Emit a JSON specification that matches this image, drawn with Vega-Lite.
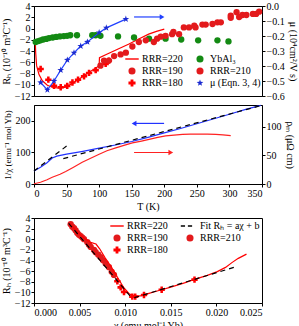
{
 "$schema": "https://vega.github.io/schema/vega-lite/v6.json",
 "padding": 0,
 "spacing": 0,
 "config": {
  "font": "Liberation Serif",
  "view": {"stroke": "#000000"},
  "axis": {"labelFont": "Liberation Serif", "labelFontSize": 10, "titleFont": "Liberation Serif", "titleFontSize": 10, "titleFontWeight": "normal", "labelColor": "#000000", "titleColor": "#000000", "domainColor": "#000000", "tickColor": "#000000", "tickSize": 3, "labelPadding": 1, "titlePadding": 3, "grid": false},
  "legend": {"labelFont": "Liberation Serif", "labelFontSize": 10, "labelColor": "#000000"}
 },
 "datasets": {
  "top_line": [
   {"T": 2, "R": -2.4}, {"T": 2.6, "R": -4.3}, {"T": 4, "R": -6.6}, {"T": 7.7, "R": -8.2}, {"T": 12.8, "R": -9.3}, {"T": 20.5, "R": -10.1}, {"T": 28, "R": -10.45}, {"T": 38, "R": -10.6}, {"T": 48.7, "R": -10.45}, {"T": 60, "R": -9.7}, {"T": 70, "R": -8.95}, {"T": 80, "R": -8.15}, {"T": 90, "R": -7.4}, {"T": 100, "R": -6.6}, {"T": 100.5, "R": -5.2}, {"T": 115, "R": -4.4}, {"T": 130, "R": -3.6}, {"T": 145, "R": -2.8}, {"T": 160, "R": -1.9}, {"T": 176, "R": -1.0}, {"T": 188, "R": -0.5}, {"T": 200, "R": -0.1}
  ],
  "top_pts": [
   {"s": "RRR=180", "T": 10.2, "R": -7.2}, {"s": "RRR=180", "T": 22, "R": -9.1}, {"s": "RRR=180", "T": 30.7, "R": -10.2}, {"s": "RRR=180", "T": 41, "R": -10.45}, {"s": "RRR=180", "T": 51, "R": -10.2}, {"s": "RRR=180", "T": 59, "R": -9.6}, {"s": "RRR=180", "T": 67.6, "R": -9.1}, {"s": "RRR=180", "T": 76.8, "R": -8.5}, {"s": "RRR=180", "T": 84.5, "R": -7.9}, {"s": "RRR=180", "T": 94.7, "R": -7.4}, {"s": "RRR=180", "T": 110, "R": -6.3}, {"s": "RRR=180", "T": 115, "R": -5.7},
   {"s": "YbAl₃", "T": 2.6, "R": -2.4}, {"s": "YbAl₃", "T": 6.6, "R": -2.23}, {"s": "YbAl₃", "T": 10, "R": -2.1}, {"s": "YbAl₃", "T": 14, "R": -1.95}, {"s": "YbAl₃", "T": 18.7, "R": -1.85}, {"s": "YbAl₃", "T": 23, "R": -1.7}, {"s": "YbAl₃", "T": 28.7, "R": -1.6}, {"s": "YbAl₃", "T": 34, "R": -1.5}, {"s": "YbAl₃", "T": 39.6, "R": -1.4}, {"s": "YbAl₃", "T": 45.7, "R": -1.35}, {"s": "YbAl₃", "T": 50.8, "R": -1.3}, {"s": "YbAl₃", "T": 55.7, "R": -1.2}, {"s": "YbAl₃", "T": 66, "R": -1.2}, {"s": "YbAl₃", "T": 89.4, "R": -1.2}, {"s": "YbAl₃", "T": 94.6, "R": -1.2}, {"s": "YbAl₃", "T": 102, "R": -1.3}, {"s": "YbAl₃", "T": 129, "R": -1.4}, {"s": "YbAl₃", "T": 153.6, "R": -1.6}, {"s": "YbAl₃", "T": 176.6, "R": -1.8}, {"s": "YbAl₃", "T": 202, "R": -1.8}, {"s": "YbAl₃", "T": 226, "R": -1.95}, {"s": "YbAl₃", "T": 252, "R": -2.1}, {"s": "YbAl₃", "T": 281.6, "R": -2.1}, {"s": "YbAl₃", "T": 298.5, "R": -2.3},
   {"s": "RRR=210", "T": 102, "R": -6.6}, {"s": "RRR=210", "T": 107.5, "R": -5.7}, {"s": "RRR=210", "T": 115, "R": -5.7}, {"s": "RRR=210", "T": 123, "R": -4.9}, {"s": "RRR=210", "T": 133, "R": -4.6}, {"s": "RRR=210", "T": 141, "R": -4.3}, {"s": "RRR=210", "T": 151, "R": -3.2}, {"s": "RRR=210", "T": 161, "R": -2.4}, {"s": "RRR=210", "T": 171.6, "R": -2.1},
   {"s": "RRR=190", "T": 184, "R": -2.4}, {"s": "RRR=190", "T": 189, "R": -1.8}, {"s": "RRR=190", "T": 194.6, "R": -1.45}, {"s": "RRR=190", "T": 202, "R": -1.3}, {"s": "RRR=190", "T": 212, "R": -1.0}, {"s": "RRR=190", "T": 214, "R": -0.6}, {"s": "RRR=190", "T": 222.7, "R": -1.0}, {"s": "RRR=190", "T": 230, "R": 0.2}, {"s": "RRR=190", "T": 238, "R": 0.2}, {"s": "RRR=190", "T": 246, "R": 0.5}, {"s": "RRR=190", "T": 248, "R": 0.2}, {"s": "RRR=190", "T": 258.5, "R": 0.7}, {"s": "RRR=190", "T": 263.6, "R": 0.7}, {"s": "RRR=190", "T": 274, "R": 0.8}, {"s": "RRR=190", "T": 281.6, "R": 1.1}, {"s": "RRR=190", "T": 286.8, "R": 1.1}, {"s": "RRR=190", "T": 302, "R": 1.9}, {"s": "RRR=190", "T": 302, "R": 2.3}, {"s": "RRR=190", "T": 311, "R": 2.9}, {"s": "RRR=190", "T": 314.9, "R": 2.05}, {"s": "RRR=190", "T": 320, "R": 2.4}, {"s": "RRR=190", "T": 326, "R": 2.4}, {"s": "RRR=190", "T": 336, "R": 2.6}, {"s": "RRR=190", "T": 341, "R": 2.6}, {"s": "RRR=190", "T": 345.6, "R": 3.0}
  ],
  "mu": [
   {"T": 10.2, "mu": -0.51}, {"T": 20.5, "mu": -0.559}, {"T": 30.7, "mu": -0.5}, {"T": 41, "mu": -0.4275}, {"T": 51.2, "mu": -0.36}, {"T": 61.4, "mu": -0.3125}, {"T": 71.7, "mu": -0.267}, {"T": 82, "mu": -0.24}, {"T": 100, "mu": -0.1775}, {"T": 111, "mu": -0.146}, {"T": 141, "mu": -0.0875}
  ],
  "top_arrow": [{"T": 153.6, "T2": 196.6, "R": 2.05}],
  "top_head": [{"T": 196.6, "R": 2.05}],
  "chi_inv": [
   {"T": 0, "v": 41}, {"T": 10, "v": 53}, {"T": 20, "v": 67}, {"T": 28, "v": 82}, {"T": 35, "v": 88}, {"T": 50, "v": 94}, {"T": 75, "v": 103}, {"T": 100, "v": 113}, {"T": 125, "v": 123}, {"T": 150, "v": 134}, {"T": 175, "v": 147}, {"T": 200, "v": 161}, {"T": 225, "v": 175}, {"T": 250, "v": 190}, {"T": 275, "v": 205}, {"T": 300, "v": 220}, {"T": 325, "v": 235}, {"T": 348, "v": 248}
  ],
  "chi_fit": [
   {"seg": "a", "T": 0, "v": 41}, {"seg": "a", "T": 51, "v": 121},
   {"seg": "b", "T": 45, "v": 80}, {"seg": "b", "T": 350, "v": 248}
  ],
  "mid_arrow_b": [{"T": 153.6, "T2": 199.7, "v": 191}],
  "mid_head_b": [{"T": 153.6, "v": 191}],
  "rho": [
   {"T": 0, "p": 0.5}, {"T": 10, "p": 3}, {"T": 20, "p": 7.5}, {"T": 28, "p": 11.7}, {"T": 40, "p": 17}, {"T": 48.7, "p": 21.7}, {"T": 60, "p": 29}, {"T": 74, "p": 38}, {"T": 87, "p": 45}, {"T": 100, "p": 52}, {"T": 112, "p": 58}, {"T": 125.5, "p": 63}, {"T": 138, "p": 67.5}, {"T": 151, "p": 71.7}, {"T": 165, "p": 75}, {"T": 176.6, "p": 78}, {"T": 190, "p": 81.5}, {"T": 202, "p": 84}, {"T": 215, "p": 85.5}, {"T": 228, "p": 86.7}, {"T": 240, "p": 87.1}, {"T": 253.5, "p": 87.2}, {"T": 266, "p": 87}, {"T": 279, "p": 86.7}, {"T": 290, "p": 85.8}, {"T": 302, "p": 84.5}
  ],
  "mid_arrow_r": [{"T": 153.6, "T2": 210, "p": 55}],
  "mid_head_r": [{"T": 210, "p": 55}],
  "bot_line": [
   {"c": 0.0039, "R": 3.0}, {"c": 0.0048, "R": 1.3}, {"c": 0.0055, "R": 0.2}, {"c": 0.0062, "R": -0.6}, {"c": 0.0068, "R": -0.9}, {"c": 0.0072, "R": -1.8}, {"c": 0.0078, "R": -3.5}, {"c": 0.0085, "R": -5.3}, {"c": 0.0092, "R": -7.3}, {"c": 0.0098, "R": -9.0}, {"c": 0.0104, "R": -10.2}, {"c": 0.011, "R": -10.8}, {"c": 0.0118, "R": -10.6}, {"c": 0.0126, "R": -10.2}, {"c": 0.0137, "R": -9.65}, {"c": 0.015, "R": -9.0}, {"c": 0.0165, "R": -8.2}, {"c": 0.0175, "R": -7.6}, {"c": 0.019, "R": -6.8}, {"c": 0.0201, "R": -6.1}, {"c": 0.021, "R": -5.3}, {"c": 0.0217, "R": -4.4}, {"c": 0.0224, "R": -3.6}, {"c": 0.0233, "R": -2.8}
  ],
  "bot_fit": [
   {"seg": "a", "c": 0.0038, "R": 3.0}, {"seg": "a", "c": 0.0107, "R": -11.0},
   {"seg": "b", "c": 0.011, "R": -11.0}, {"seg": "b", "c": 0.0223, "R": -5.1}
  ],
  "bot_pts": [
   {"s": "RRR=210", "c": 0.00402, "R": 2.82}, {"s": "RRR=210", "c": 0.0042, "R": 2.36}, {"s": "RRR=210", "c": 0.00439, "R": 2.07}, {"s": "RRR=210", "c": 0.00457, "R": 1.66}, {"s": "RRR=210", "c": 0.00475, "R": 1.19}, {"s": "RRR=210", "c": 0.00493, "R": 0.84}, {"s": "RRR=210", "c": 0.00512, "R": 0.6}, {"s": "RRR=210", "c": 0.0053, "R": 0.31}, {"s": "RRR=210", "c": 0.00548, "R": 0.01}, {"s": "RRR=210", "c": 0.00585, "R": -0.57}, {"s": "RRR=210", "c": 0.00603, "R": -1.04}, {"s": "RRR=210", "c": 0.00622, "R": -1.45}, {"s": "RRR=210", "c": 0.00658, "R": -2.03}, {"s": "RRR=210", "c": 0.00676, "R": -2.45}, {"s": "RRR=210", "c": 0.00705, "R": -2.9}, {"s": "RRR=210", "c": 0.00731, "R": -3.38}, {"s": "RRR=210", "c": 0.00757, "R": -3.96}, {"s": "RRR=210", "c": 0.00786, "R": -4.56}, {"s": "RRR=210", "c": 0.00822, "R": -5.26}, {"s": "RRR=210", "c": 0.00852, "R": -6.14}, {"s": "RRR=210", "c": 0.00877, "R": -6.72},
   {"s": "RRR=180", "c": 0.00914, "R": -7.9}, {"s": "RRR=180", "c": 0.0095, "R": -9.06}, {"s": "RRR=180", "c": 0.00987, "R": -9.94}, {"s": "RRR=180", "c": 0.01078, "R": -10.8}, {"s": "RRR=180", "c": 0.0111, "R": -10.8}, {"s": "RRR=180", "c": 0.01206, "R": -10.5}, {"s": "RRR=180", "c": 0.014, "R": -9.5}, {"s": "RRR=180", "c": 0.0176, "R": -7.6}
  ]
 },
 "resolve": {"scale": {"color": "independent", "shape": "independent"}, "legend": {"color": "independent", "shape": "independent"}},
 "vconcat": [
  {
   "width": 228, "height": 90,
   "encoding": {
    "x": {"field": "T", "type": "quantitative", "scale": {"domain": [0, 350], "nice": false}, "axis": null}
   },
   "resolve": {"scale": {"y": "independent"}},
   "layer": [
    {"data": {"name": "top_line"}, "mark": {"type": "line", "color": "#ff0000", "strokeWidth": 1.2},
     "encoding": {"y": {"field": "R", "type": "quantitative", "scale": {"domain": [-12, 4], "nice": false}, "axis": {"values": [-12, -10, -8, -6, -4, -2, 0, 2, 4], "title": "Rₕ (10⁻¹⁰ m³C⁻¹)"}}}},
    {"data": {"name": "top_pts"}, "mark": {"type": "point", "filled": true, "size": 40, "opacity": 1},
     "encoding": {
      "y": {"field": "R", "type": "quantitative", "scale": {"domain": [-12, 4], "nice": false}, "axis": null},
      "color": {"field": "s", "type": "nominal", "scale": {"domain": ["RRR=220", "RRR=190", "RRR=180", "YbAl₃", "RRR=210", "μ (Eqn. 3, 4)"], "range": ["#ff0000", "#e31a1c", "#ff0000", "#138a13", "#e31a1c", "#1a2ad0"]}, "legend": {"orient": "none", "legendX": 93, "legendY": 48, "columns": 2, "title": null, "columnPadding": 12, "rowPadding": 2, "symbolSize": 50, "labelOffset": 5}},
      "shape": {"field": "s", "type": "nominal", "scale": {"domain": ["RRR=220", "RRR=190", "RRR=180", "YbAl₃", "RRR=210", "μ (Eqn. 3, 4)"], "range": ["M-1.9,-0.2L1.9,-0.2L1.9,0.2L-1.9,0.2Z", "circle", "cross", "circle", "circle", "M0,-1L0.235,-0.324L0.951,-0.309L0.38,0.124L0.588,0.809L0,0.4L-0.588,0.809L-0.38,0.124L-0.951,-0.309L-0.235,-0.324Z"]}, "legend": {"orient": "none", "legendX": 93, "legendY": 48, "columns": 2, "title": null, "columnPadding": 12, "rowPadding": 2, "symbolSize": 50, "labelOffset": 5}}
     }},
    {"data": {"name": "top_arrow"}, "mark": {"type": "rule", "color": "#2040ff", "strokeWidth": 1.2},
     "encoding": {"x2": {"field": "T2"}, "y": {"field": "R", "type": "quantitative", "scale": {"domain": [-12, 4], "nice": false}, "axis": null}}},
    {"data": {"name": "top_head"}, "mark": {"type": "point", "shape": "triangle-right", "filled": true, "color": "#2040ff", "size": 30, "opacity": 1},
     "encoding": {"y": {"field": "R", "type": "quantitative", "scale": {"domain": [-12, 4], "nice": false}, "axis": null}}},
    {"data": {"name": "mu"}, "mark": {"type": "line", "color": "#2040ff", "strokeWidth": 1.2},
     "encoding": {"y": {"field": "mu", "type": "quantitative", "scale": {"domain": [-0.6, 0], "nice": false}, "axis": {"orient": "right", "values": [-0.6, -0.5, -0.4, -0.3, -0.2, -0.1, 0], "format": ".1f", "title": "μ (10⁴cm²/V s)"}}}},
    {"data": {"name": "mu"}, "mark": {"type": "point", "shape": "M0,-1L0.235,-0.324L0.951,-0.309L0.38,0.124L0.588,0.809L0,0.4L-0.588,0.809L-0.38,0.124L-0.951,-0.309L-0.235,-0.324Z", "filled": true, "color": "#1a2ad0", "size": 50, "opacity": 1},
     "encoding": {"y": {"field": "mu", "type": "quantitative", "scale": {"domain": [-0.6, 0], "nice": false}, "axis": null}}}
   ]
  },
  {
   "width": 228, "height": 79,
   "encoding": {
    "x": {"field": "T", "type": "quantitative", "scale": {"domain": [0, 350], "nice": false}, "axis": {"values": [0, 50, 100, 150, 200, 250, 300, 350], "title": "T (K)"}}
   },
   "resolve": {"scale": {"y": "independent"}},
   "layer": [
    {"data": {"name": "chi_inv"}, "mark": {"type": "line", "color": "#2233ff", "strokeWidth": 1.2},
     "encoding": {"y": {"field": "v", "type": "quantitative", "scale": {"domain": [0, 249], "nice": false}, "axis": {"values": [0, 100, 200], "title": "1/χ (emu⁻¹ mol Yb)", "titleFontSize": 9}}}},
    {"data": {"name": "chi_fit"}, "mark": {"type": "line", "color": "#000000", "strokeWidth": 1.2, "strokeDash": [5, 4]},
     "encoding": {"detail": {"field": "seg", "type": "nominal"}, "y": {"field": "v", "type": "quantitative", "scale": {"domain": [0, 249], "nice": false}, "axis": null}}},
    {"data": {"name": "mid_arrow_b"}, "mark": {"type": "rule", "color": "#2233ff", "strokeWidth": 1.2},
     "encoding": {"x2": {"field": "T2"}, "y": {"field": "v", "type": "quantitative", "scale": {"domain": [0, 249], "nice": false}, "axis": null}}},
    {"data": {"name": "mid_head_b"}, "mark": {"type": "point", "shape": "triangle-left", "filled": true, "color": "#2233ff", "size": 30, "opacity": 1},
     "encoding": {"y": {"field": "v", "type": "quantitative", "scale": {"domain": [0, 249], "nice": false}, "axis": null}}},
    {"data": {"name": "rho"}, "mark": {"type": "line", "color": "#ff2222", "strokeWidth": 1.2},
     "encoding": {"y": {"field": "p", "type": "quantitative", "scale": {"domain": [0, 138], "nice": false}, "axis": {"orient": "right", "values": [0, 50, 100], "title": "ρₘ (μΩ cm)"}}}},
    {"data": {"name": "mid_arrow_r"}, "mark": {"type": "rule", "color": "#ff2222", "strokeWidth": 1.2},
     "encoding": {"x2": {"field": "T2"}, "y": {"field": "p", "type": "quantitative", "scale": {"domain": [0, 138], "nice": false}, "axis": null}}},
    {"data": {"name": "mid_head_r"}, "mark": {"type": "point", "shape": "triangle-right", "filled": true, "color": "#ff2222", "size": 30, "opacity": 1},
     "encoding": {"y": {"field": "p", "type": "quantitative", "scale": {"domain": [0, 138], "nice": false}, "axis": null}}}
   ]
  },
  {
   "width": 228, "height": 85,
   "encoding": {
    "x": {"field": "c", "type": "quantitative", "scale": {"domain": [0, 0.025], "nice": false}, "axis": {"values": [0, 0.005, 0.01, 0.015, 0.02, 0.025], "format": ".3f", "title": "χ (emu mol⁻¹ Yb)"}},
    "y": {"field": "R", "type": "quantitative", "scale": {"domain": [-12, 4], "nice": false}, "axis": {"values": [-12, -10, -8, -6, -4, -2, 0, 2, 4], "title": "Rₕ (10⁻¹⁰ m³C⁻¹)"}}
   },
   "layer": [
    {"data": {"name": "bot_pts"}, "mark": {"type": "point", "filled": true, "size": 40, "opacity": 1},
     "encoding": {
      "color": {"field": "s", "type": "nominal", "scale": {"domain": ["RRR=220", "RRR=190", "RRR=180", "Fit Rₕ = aχ + b", "RRR=210"], "range": ["#ff0000", "#e31a1c", "#ff0000", "#000000", "#e31a1c"]}, "legend": {"orient": "none", "legendX": 78, "legendY": 3, "columns": 2, "title": null, "columnPadding": 12, "rowPadding": 2, "symbolSize": 50, "labelOffset": 5}},
      "shape": {"field": "s", "type": "nominal", "scale": {"domain": ["RRR=220", "RRR=190", "RRR=180", "Fit Rₕ = aχ + b", "RRR=210"], "range": ["M-1.9,-0.2L1.9,-0.2L1.9,0.2L-1.9,0.2Z", "circle", "cross", "M-2.6,-0.2L-1.4,-0.2L-1.4,0.2L-2.6,0.2ZM-0.6,-0.2L0.6,-0.2L0.6,0.2L-0.6,0.2Z", "circle"]}, "legend": {"orient": "none", "legendX": 78, "legendY": 3, "columns": 2, "title": null, "columnPadding": 12, "rowPadding": 2, "symbolSize": 50, "labelOffset": 5}}
     }},
    {"data": {"name": "bot_line"}, "mark": {"type": "line", "color": "#ff0000", "strokeWidth": 1.2}},
    {"data": {"name": "bot_fit"}, "mark": {"type": "line", "color": "#000000", "strokeWidth": 1.2, "strokeDash": [5, 4]}, "encoding": {"detail": {"field": "seg", "type": "nominal"}}}
   ]
  }
 ]
}
